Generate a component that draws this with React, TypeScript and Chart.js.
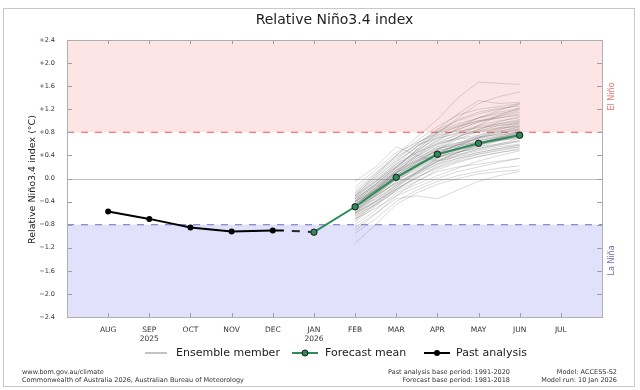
import { useEffect, useRef } from "react";
import { Chart, registerables } from "chart.js";

Chart.register(...registerables);

const FONT = "'DejaVu Sans', 'Liberation Sans', sans-serif";

// ---- data ----
const months = ["AUG", "SEP", "OCT", "NOV", "DEC", "JAN", "FEB", "MAR", "APR", "MAY", "JUN", "JUL"];
const yearLabels = ["", "2025", "", "", "", "2026", "", "", "", "", "", ""];
const yTicks = [-2.4, -2.0, -1.6, -1.2, -0.8, -0.4, 0.0, 0.4, 0.8, 1.2, 1.6, 2.0, 2.4];

const elNinoThreshold = 0.8;
const laNinaThreshold = -0.8;

// past analysis (month index: AUG = 0)
const pastX = [0, 1, 2, 3, 4, 4.27];
const pastY = [-0.57, -0.7, -0.85, -0.92, -0.9, -0.9];

// forecast mean
const meanX = [5, 6, 7, 8, 9, 10];
const meanY = [-0.93, -0.49, 0.02, 0.42, 0.61, 0.75];

// ensemble members (half-monthly from FEB to JUN)
const ensembleX = [6, 6.5, 7, 7.5, 8, 8.5, 9, 9.5, 10];
const ensembleMembers: number[][] = [
  [-0.48, -0.2, 0.05, 0.3, 0.52, 0.6, 0.7, 0.78, 0.85],
  [-0.62, -0.4, -0.18, 0.02, 0.18, 0.3, 0.38, 0.45, 0.52],
  [-0.35, -0.05, 0.22, 0.48, 0.72, 0.85, 0.98, 1.05, 1.12],
  [-0.55, -0.3, -0.08, 0.1, 0.28, 0.4, 0.48, 0.55, 0.6],
  [-0.3, 0.05, 0.4, 0.72, 1.02, 1.4, 1.67, 1.65, 1.63],
  [-0.7, -0.52, -0.3, -0.15, 0.0, 0.12, 0.2, 0.28, 0.35],
  [-0.5, -0.25, 0.0, 0.2, 0.4, 0.5, 0.58, 0.66, 0.72],
  [-0.58, -0.28, 0.08, 0.35, 0.55, 0.62, 0.68, 0.75, 0.8],
  [-0.4, -0.18, 0.1, 0.32, 0.48, 0.58, 0.7, 0.82, 0.9],
  [-0.65, -0.45, -0.22, -0.05, 0.12, 0.2, 0.25, 0.3, 0.35],
  [-0.38, -0.08, 0.25, 0.55, 0.8, 0.92, 1.05, 1.15, 1.22],
  [-0.52, -0.22, 0.02, 0.22, 0.38, 0.46, 0.52, 0.58, 0.64],
  [-0.45, -0.15, 0.12, 0.38, 0.6, 0.78, 0.9, 0.95, 1.0],
  [-0.8, -0.55, -0.25, -0.1, 0.05, 0.18, 0.3, 0.4, 0.48],
  [-0.6, -0.32, -0.05, 0.18, 0.36, 0.45, 0.55, 0.65, 0.72],
  [-0.28, 0.02, 0.3, 0.55, 0.75, 0.82, 0.88, 0.92, 0.95],
  [-0.48, -0.26, -0.02, 0.15, 0.32, 0.45, 0.6, 0.72, 0.8],
  [-0.55, -0.35, -0.12, 0.08, 0.25, 0.35, 0.42, 0.48, 0.55],
  [-0.35, -0.1, 0.18, 0.4, 0.62, 0.7, 0.75, 0.82, 0.88],
  [-0.72, -0.45, -0.15, 0.08, 0.3, 0.42, 0.5, 0.58, 0.65],
  [-0.45, -0.2, 0.08, 0.32, 0.55, 0.72, 0.85, 0.98, 1.08],
  [-0.62, -0.38, -0.1, 0.12, 0.3, 0.38, 0.45, 0.52, 0.58],
  [-0.4, -0.15, 0.05, 0.25, 0.45, 0.58, 0.7, 0.78, 0.84],
  [-0.5, -0.3, -0.08, 0.12, 0.35, 0.5, 0.62, 0.7, 0.76],
  [-0.25, 0.05, 0.35, 0.6, 0.85, 1.0, 1.12, 1.2, 1.28],
  [-0.95, -0.7, -0.4, -0.2, -0.05, 0.05, 0.12, 0.18, 0.22],
  [-0.52, -0.2, 0.1, 0.35, 0.52, 0.58, 0.62, 0.66, 0.7],
  [-0.42, -0.22, 0.0, 0.18, 0.36, 0.48, 0.58, 0.68, 0.78],
  [-0.58, -0.3, 0.0, 0.28, 0.5, 0.62, 0.72, 0.8, 0.86],
  [-0.32, -0.02, 0.25, 0.45, 0.6, 0.68, 0.72, 0.76, 0.8],
  [-0.68, -0.42, -0.18, 0.02, 0.2, 0.32, 0.42, 0.5, 0.55],
  [-0.46, -0.16, 0.14, 0.4, 0.65, 0.88, 1.05, 1.18, 1.3],
  [-1.12, -0.8, -0.45, -0.25, -0.1, 0.0, 0.08, 0.12, 0.15],
  [-0.15, 0.15, 0.45, 0.62, 0.78, 0.9, 1.0, 1.08, 1.15],
  [-0.55, -0.25, 0.05, 0.28, 0.48, 0.55, 0.64, 0.72, 0.78],
  [-0.4, -0.12, 0.15, 0.3, 0.42, 0.5, 0.58, 0.66, 0.74],
  [-0.6, -0.35, -0.05, 0.22, 0.45, 0.55, 0.65, 0.74, 0.82],
  [-0.5, -0.18, 0.12, 0.38, 0.58, 0.72, 0.85, 0.95, 1.02],
  [-0.35, -0.12, 0.1, 0.25, 0.4, 0.52, 0.62, 0.7, 0.76],
  [-0.75, -0.48, -0.2, 0.0, 0.22, 0.35, 0.45, 0.52, 0.58],
  [-0.3, -0.05, 0.2, 0.5, 0.78, 1.05, 1.3, 1.42, 1.5],
  [-0.5, -0.28, -0.02, 0.25, 0.5, 0.72, 0.92, 1.1, 1.22],
  [-0.05, 0.2, 0.55, 0.4, 0.3, 0.45, 0.55, 0.6, 0.7],
  [-0.85, -0.6, -0.35, -0.3, -0.35, -0.2, -0.05, 0.05, 0.12],
  [-0.42, -0.1, 0.2, 0.48, 0.7, 0.85, 0.98, 1.08, 1.18],
  [-0.3, 0.0, 0.32, 0.6, 0.82, 0.95, 1.05, 1.12, 1.2],
  [-0.55, -0.22, 0.1, 0.42, 0.68, 0.8, 0.92, 1.0, 1.05],
  [-0.2, 0.1, 0.4, 0.65, 0.9, 1.1, 1.2, 1.25, 1.3],
  [-0.45, -0.2, 0.05, 0.3, 0.5, 0.68, 0.82, 0.92, 0.98],
  [-0.6, -0.4, -0.15, 0.1, 0.35, 0.55, 0.72, 0.85, 0.95],
  [-0.38, -0.1, 0.2, 0.45, 0.65, 0.75, 0.8, 0.86, 0.92],
  [-0.5, -0.2, 0.15, 0.45, 0.75, 0.9, 1.0, 1.05, 1.1],
  [-0.65, -0.4, -0.12, 0.1, 0.3, 0.45, 0.58, 0.7, 0.8],
  [-0.25, 0.08, 0.38, 0.58, 0.7, 0.78, 0.82, 0.88, 0.9],
  [-0.48, -0.15, 0.18, 0.5, 0.8, 1.02, 1.15, 1.22, 1.25],
  [-0.7, -0.45, -0.2, 0.05, 0.25, 0.4, 0.52, 0.6, 0.66],
  [-0.4, -0.2, 0.02, 0.22, 0.42, 0.6, 0.75, 0.88, 0.98],
  [-0.55, -0.28, 0.0, 0.25, 0.45, 0.58, 0.66, 0.72, 0.76],
  [-0.9, -0.62, -0.3, -0.05, 0.15, 0.28, 0.38, 0.45, 0.5],
  [-0.33, -0.05, 0.28, 0.55, 0.85, 1.12, 1.35, 1.3, 1.32],
];

const footerLeft = ["www.bom.gov.au/climate", "Commonwealth of Australia 2026, Australian Bureau of Meteorology"];
const footerMid = ["Past analysis base period: 1991-2020", "Forecast base period: 1981-2018"];
const footerRight = ["Model: ACCESS-S2", "Model run: 10 Jan 2026"];

// ---- colours ----
const PINK = "rgb(253,229,229)";
const LAVENDER = "rgb(225,225,251)";
const RED_DASH = "rgb(244,120,120)";
const BLUE_DASH = "rgb(140,140,205)";
const GREEN = "rgb(46,139,87)";
const ENS = "rgba(100,100,100,0.24)";

const fmtY = (v: number) => {
  if (Math.abs(v) < 1e-9) return "0.0";
  return (v > 0 ? "+" : "\u2212") + Math.abs(v).toFixed(1);
};

const decorPlugin = {
  id: "decor",
  beforeDatasetsDraw(chart: any) {
    const { ctx, chartArea: a, scales } = chart;
    const y = scales.y;
    ctx.save();
    ctx.fillStyle = PINK;
    const yEl = y.getPixelForValue(elNinoThreshold);
    ctx.fillRect(a.left, a.top, a.right - a.left, yEl - a.top);
    ctx.fillStyle = LAVENDER;
    const yLa = y.getPixelForValue(laNinaThreshold);
    ctx.fillRect(a.left, yLa, a.right - a.left, a.bottom - yLa);
    // zero line
    const y0 = Math.round(y.getPixelForValue(0)) + 0.5;
    ctx.strokeStyle = "rgb(190,190,190)";
    ctx.lineWidth = 1;
    ctx.beginPath();
    ctx.moveTo(a.left, y0);
    ctx.lineTo(a.right, y0);
    ctx.stroke();
    // thresholds
    ctx.setLineDash([7, 7]);
    ctx.lineWidth = 1.3;
    ctx.strokeStyle = RED_DASH;
    ctx.beginPath();
    ctx.moveTo(a.left, yEl);
    ctx.lineTo(a.right, yEl);
    ctx.stroke();
    ctx.strokeStyle = BLUE_DASH;
    ctx.beginPath();
    ctx.moveTo(a.left, yLa);
    ctx.lineTo(a.right, yLa);
    ctx.stroke();
    ctx.restore();
  },
  afterDraw(chart: any) {
    const { ctx, chartArea: a, scales } = chart;
    const x = scales.x;
    const y = scales.y;
    ctx.save();
    // inside tick marks
    ctx.strokeStyle = "rgb(160,160,160)";
    ctx.lineWidth = 1;
    ctx.beginPath();
    months.forEach((_, i) => {
      const px = Math.round(x.getPixelForValue(i)) + 0.5;
      ctx.moveTo(px, a.bottom);
      ctx.lineTo(px, a.bottom - 4);
      ctx.moveTo(px, a.top);
      ctx.lineTo(px, a.top + 4);
    });
    yTicks.forEach((v) => {
      const py = Math.round(y.getPixelForValue(v)) + 0.5;
      ctx.moveTo(a.left, py);
      ctx.lineTo(a.left + 5, py);
      ctx.moveTo(a.right, py);
      ctx.lineTo(a.right - 5, py);
    });
    ctx.stroke();
    // plot border
    ctx.strokeStyle = "rgb(175,175,175)";
    ctx.strokeRect(Math.round(a.left) + 0.5, Math.round(a.top) + 0.5, Math.round(a.right - a.left), Math.round(a.bottom - a.top));
    // outer frame
    ctx.strokeStyle = "rgb(200,200,200)";
    ctx.strokeRect(3.5, 8.5, 631, 378);

    ctx.textAlign = "center";
    ctx.textBaseline = "middle";
    const drawRot = (text: string, color: string, px: number, py: number, font: string) => {
      ctx.save();
      ctx.translate(px, py);
      ctx.rotate(-Math.PI / 2);
      ctx.font = font;
      ctx.fillStyle = color;
      ctx.fillText(text, 0, 0);
      ctx.restore();
    };
    // y-axis title
    drawRot("Relative Niño3.4 index (°C)", "#222", 33, (a.top + a.bottom) / 2 + 1, `9.5px ${FONT}`);
    // El Niño / La Niña labels
    drawRot("El Niño", "rgb(240,110,110)", a.right + 10, y.getPixelForValue(1.42), `8px ${FONT}`);
    drawRot("La Niña", "rgb(110,110,190)", a.right + 10, y.getPixelForValue(-1.42), `8px ${FONT}`);

    // legend
    const ly = 353;
    ctx.font = `11px ${FONT}`;
    ctx.textAlign = "left";
    ctx.fillStyle = "#222";
    ctx.lineWidth = 1.5;
    ctx.strokeStyle = "rgb(175,175,175)";
    ctx.beginPath();
    ctx.moveTo(145, ly);
    ctx.lineTo(167, ly);
    ctx.stroke();
    ctx.fillText("Ensemble member", 176, ly);

    ctx.lineWidth = 2;
    ctx.strokeStyle = GREEN;
    ctx.beginPath();
    ctx.moveTo(292, ly);
    ctx.lineTo(318, ly);
    ctx.stroke();
    ctx.beginPath();
    ctx.arc(305, ly, 3, 0, Math.PI * 2);
    ctx.fillStyle = GREEN;
    ctx.fill();
    ctx.lineWidth = 1;
    ctx.strokeStyle = "#1a1a1a";
    ctx.stroke();
    ctx.fillStyle = "#222";
    ctx.fillText("Forecast mean", 325, ly);

    ctx.lineWidth = 2;
    ctx.strokeStyle = "#000";
    ctx.beginPath();
    ctx.moveTo(424, ly);
    ctx.lineTo(450, ly);
    ctx.stroke();
    ctx.beginPath();
    ctx.arc(437, ly, 3, 0, Math.PI * 2);
    ctx.fillStyle = "#000";
    ctx.fill();
    ctx.fillStyle = "#222";
    ctx.fillText("Past analysis", 456, ly);

    // footer
    ctx.font = `6.5px ${FONT}`;
    ctx.fillStyle = "#333";
    ctx.textAlign = "left";
    ctx.fillText(footerLeft[0], 22, 372);
    ctx.fillText(footerLeft[1], 22, 380);
    ctx.textAlign = "right";
    ctx.fillText(footerMid[0], 510, 372);
    ctx.fillText(footerMid[1], 510, 380);
    ctx.fillText(footerRight[0], 617, 372);
    ctx.fillText(footerRight[1], 617, 380);
    ctx.restore();
  },
};

export default function App() {
  const ref = useRef<HTMLCanvasElement | null>(null);

  useEffect(() => {
    if (!ref.current) return;
    const ensembleSets = ensembleMembers.map((m) => ({
      label: "Ensemble member",
      data: ensembleX.map((x, i) => ({ x, y: m[i] })),
      borderColor: ENS,
      borderWidth: 1,
      pointRadius: 0,
      tension: 0,
      order: 5,
    }));
    const chart = new Chart(ref.current, {
      type: "line",
      data: {
        datasets: [
          {
            label: "Past analysis",
            data: pastX.map((x, i) => ({ x, y: pastY[i] })),
            borderColor: "#000",
            backgroundColor: "#000",
            borderWidth: 2,
            pointRadius: pastX.map((_, i) => (i < pastX.length - 1 ? 3 : 0)),
            pointBorderWidth: 0,
            tension: 0,
            order: 0,
          },
          {
            label: "bridge",
            data: [
              { x: pastX[pastX.length - 1], y: pastY[pastY.length - 1] },
              { x: meanX[0], y: meanY[0] },
            ],
            borderColor: "rgb(40,40,40)",
            borderWidth: 2,
            borderDash: [8, 8],
            borderDashOffset: 8,
            pointRadius: 0,
            order: 2,
          },
          {
            label: "Forecast mean",
            data: meanX.map((x, i) => ({ x, y: meanY[i] })),
            borderColor: GREEN,
            backgroundColor: GREEN,
            pointBorderColor: "#1a1a1a",
            pointBorderWidth: 1,
            borderWidth: 2,
            pointRadius: 3.2,
            tension: 0,
            order: 1,
          },
          ...ensembleSets,
        ],
      },
      options: {
        animation: false,
        responsive: false,
        devicePixelRatio: 1,
        events: [],
        layout: { padding: { left: 0, right: 38, top: 0, bottom: 43 } },
        plugins: {
          legend: { display: false },
          tooltip: { enabled: false },
          title: {
            display: true,
            text: "Relative Niño3.4 index",
            fullSize: false,
            color: "#222",
            font: { family: FONT, size: 14, weight: "normal" },
            padding: { top: 12, bottom: 11.2 },
          },
        },
        scales: {
          x: {
            type: "linear",
            min: -1,
            max: 12,
            grid: { display: false },
            border: { display: false },
            afterBuildTicks: (axis: any) => {
              axis.ticks = months.map((_, i) => ({ value: i }));
            },
            afterFit: (s: any) => {
              s.height = 30;
            },
            ticks: {
              autoSkip: false,
              maxRotation: 0,
              padding: 1,
              color: "#333",
              font: { family: FONT, size: 7.5 },
              callback: (v: any) => {
                const i = Math.round(Number(v));
                return yearLabels[i] ? [months[i], yearLabels[i]] : months[i];
              },
            },
          },
          y: {
            type: "linear",
            min: -2.4,
            max: 2.4,
            grid: { display: false },
            border: { display: false },
            afterBuildTicks: (axis: any) => {
              axis.ticks = yTicks.map((v) => ({ value: v }));
            },
            afterFit: (s: any) => {
              s.width = 67;
            },
            ticks: {
              padding: 4,
              color: "#333",
              font: { family: FONT, size: 6.5 },
              callback: (v: any) => fmtY(Number(v)),
            },
          },
        },
      },
      plugins: [decorPlugin],
    } as any);
    return () => chart.destroy();
  }, []);

  return (
    <div style={{ position: "fixed", left: 0, top: 0, width: 640, height: 390, background: "#fff" }}>
      <canvas ref={ref} width={640} height={390} style={{ width: 640, height: 390, display: "block" }} />
    </div>
  );
}
